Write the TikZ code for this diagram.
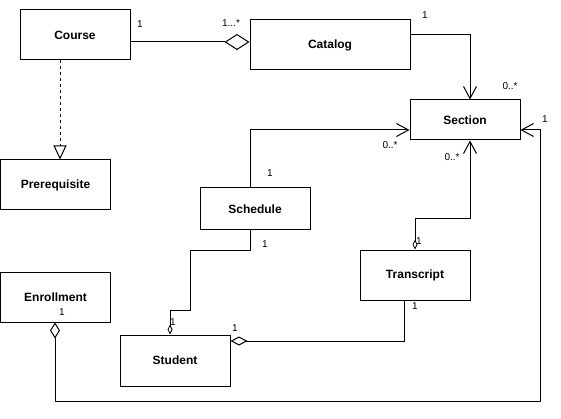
\documentclass[tikz,border=0pt]{standalone}
\usepackage{fontspec}
\setmainfont{Liberation Sans}
\usetikzlibrary{arrows.meta}
\tikzset{
  cls/.style={draw, line width=1pt, font=\bfseries\fontsize{12}{14}\selectfont, inner sep=0pt},
  lbl/.style={font=\fontsize{10}{12}\selectfont, inner sep=0pt},
  conn/.style={line width=1pt},
  navto/.style={-{Straight Barb[length=12pt,width=13pt,line width=1pt]}},
}
\begin{document}
\begin{tikzpicture}[x=1pt,y=-1pt]
\useasboundingbox (0,0) rectangle (561,419);
% classes
\node[cls, minimum width=110pt, minimum height=50pt] (course) at (75,35) {Course};
\node[cls, minimum width=160pt, minimum height=50pt] (catalog) at (330,45) {Catalog};
\node[cls, minimum width=110pt, minimum height=40pt] (section) at (465,120) {Section};
\node[cls, minimum width=110pt, minimum height=50pt] (prereq) at (55.5,185) {Prerequisite};
\node[cls, minimum width=110pt, minimum height=42pt] (schedule) at (255,209) {Schedule};
\node[cls, minimum width=110pt, minimum height=50pt] (transcript) at (415,275) {Transcript};
\node[cls, minimum width=110pt, minimum height=50pt] (enrollment) at (55.5,297) {Enrollment};
\node[cls, minimum width=110pt, minimum height=51pt] (student) at (175,360.5) {Student};
% bends
\coordinate (b1) at (470,35);
\coordinate (b2) at (250,130);
\coordinate (b3) at (470,219);
\coordinate (b4) at (415,219);
\coordinate (b5) at (250,250);
\coordinate (b6) at (190,250);
\coordinate (b7) at (190,310);
\coordinate (b8) at (170,310);
\coordinate (b9) at (404,341);
\coordinate (b10) at (55,401);
\coordinate (b11) at (540,401);
\coordinate (b12) at (540,130);
% connectors
\draw[conn, -{Diamond[open,length=25pt,width=16pt,line width=1pt]}] (course.east |- 0,42) -- (catalog.west |- 0,42);
\draw[conn, dashed, -{Triangle[open,length=14pt,width=13pt,line width=1pt]}] (course.south -| 60,0) -- (prereq.north -| 60,0);
\draw[conn, navto] (catalog.east |- b1) -- (b1) -- (section.north -| b1);
\draw[conn, navto] (schedule.north -| b2) -- (b2) -- (section.west |- b2);
\draw[conn, {Diamond[open,length=10pt,width=5pt,line width=0.8pt]}-{Straight Barb[length=12pt,width=13pt,line width=1pt]}]
  (transcript.north) -- (b4) -- (b3) -- (section.south -| b3);
\draw[conn, -{Diamond[open,length=10pt,width=5pt,line width=0.8pt]}]
  (schedule.south -| b5) -- (b5) -- (b6) -- (b7) -- (b8) -- (student.north -| b8);
\draw[conn, {Diamond[open,length=17pt,width=9pt,line width=1pt]}-]
  (student.east |- b9) -- (b9) -- (transcript.south -| b9);
\draw[conn, {Diamond[open,length=16pt,width=10pt,line width=1pt]}-{Straight Barb[length=12pt,width=13pt,line width=1pt]}]
  (enrollment.south -| b10) -- (b10) -- (b11) -- (b12) -- (section.east |- b12);
% multiplicities
\node[lbl] (m1) at (140,24) {1};
\node[lbl] (m2) at (231,23) {1...*};
\node[lbl] (m3) at (425,15) {1};
\node[lbl] (m4) at (510,86) {0..*};
\node[lbl] (m5) at (545,119) {1};
\node[lbl] (m6) at (390,145) {0..*};
\node[lbl] (m7) at (452,157) {0..*};
\node[lbl] (m8) at (270,173) {1};
\node[lbl] (m9) at (265,244) {1};
\node[lbl] (m10) at (419,241) {1};
\node[lbl] (m11) at (62,312) {1};
\node[lbl] (m12) at (173,322) {1};
\node[lbl] (m13) at (235,328) {1};
\node[lbl] (m14) at (415,306) {1};
\end{tikzpicture}
\end{document}
